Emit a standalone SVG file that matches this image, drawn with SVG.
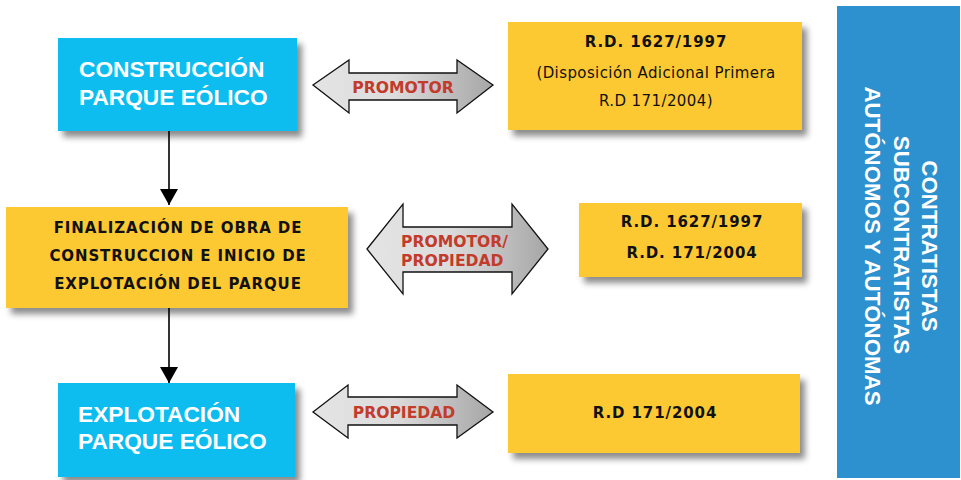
<svg xmlns="http://www.w3.org/2000/svg" width="961" height="480" viewBox="0 0 961 480">
<defs>
<filter id="sh" x="-10%" y="-10%" width="125%" height="135%">
<feDropShadow dx="5" dy="6" stdDeviation="3" flood-color="#000" flood-opacity="0.45"/>
</filter>
<linearGradient id="ag" x1="0" y1="0" x2="1" y2="0">
<stop offset="0" stop-color="#e4e4e4"/>
<stop offset="0.45" stop-color="#dcdcdc"/>
<stop offset="1" stop-color="#a6a6a6"/>
</linearGradient>
<marker id="ah" viewBox="0 0 16 18" refX="16" refY="9" markerWidth="16" markerHeight="18" markerUnits="userSpaceOnUse" orient="auto">
<path d="M0,0 L16,9 L0,18 Z" fill="#000"/>
</marker>
<style>
.cyan{fill:#0bbdef;filter:url(#sh)}
.yel{fill:#fdc930;filter:url(#sh)}
.ct{font-family:"Liberation Sans",Arial,sans-serif;font-weight:bold;font-size:22.7px;fill:#fff}
.yt{font-family:"DejaVu Sans",Verdana,sans-serif;font-size:15px;fill:#111;text-anchor:middle;letter-spacing:0.4px}
.yb{font-weight:bold;letter-spacing:0.9px}
.arr{fill:url(#ag);stroke:#111;stroke-width:1.3}
.at{font-family:"DejaVu Sans",Verdana,sans-serif;font-weight:bold;font-size:15.6px;fill:#c23b2b}
.conn{stroke:#000;stroke-width:1.6;fill:none}
</style>
</defs>

<g id="n-construccion">
<rect class="cyan" x="58" y="38" width="239" height="93"/>
<text class="ct" x="79" y="77">CONSTRUCCIÓN</text>
<text class="ct" x="79" y="105">PARQUE EÓLICO</text>
</g>

<g id="n-promotor">
<path class="arr" d="M313,85 L349,60 L349,73 L457,73 L457,60 L493,85 L457,113 L457,100 L349,100 L349,113 Z"/>
<text class="at" x="403" y="93" text-anchor="middle">PROMOTOR</text>
</g>

<g id="n-rd1">
<rect class="yel" x="508" y="22" width="294" height="108"/>
<text class="yt yb" x="656" y="47">R.D. 1627/1997</text>
<text class="yt" x="656" y="78">(Disposición Adicional Primera</text>
<text class="yt" x="656" y="106">R.D 171/2004)</text>
</g>

<g id="n-finalizacion">
<rect class="yel" x="6" y="207" width="342" height="101"/>
<text class="yt yb" x="178" y="233">FINALIZACIÓN DE OBRA DE</text>
<text class="yt yb" x="178" y="261">CONSTRUCCION E INICIO DE</text>
<text class="yt yb" x="178" y="289">EXPLOTACIÓN DEL PARQUE</text>
</g>

<g id="n-promotor-propiedad">
<path class="arr" d="M367,249 L403,204 L403,227 L512,227 L512,204 L548,249 L512,294 L512,272 L403,272 L403,294 Z"/>
<text class="at" x="401" y="247">PROMOTOR/</text>
<text class="at" x="401" y="266">PROPIEDAD</text>
</g>

<g id="n-rd2">
<rect class="yel" x="579" y="203" width="223" height="74"/>
<text class="yt yb" x="692" y="227">R.D. 1627/1997</text>
<text class="yt yb" x="692" y="258">R.D. 171/2004</text>
</g>

<g id="n-explotacion">
<rect class="cyan" x="58" y="383" width="237" height="94"/>
<text class="ct" x="78" y="422">EXPLOTACIÓN</text>
<text class="ct" x="78" y="449">PARQUE EÓLICO</text>
</g>

<g id="n-propiedad">
<path class="arr" d="M313,412 L348,385 L348,397 L457,397 L457,385 L493,412 L457,438 L457,425 L348,425 L348,438 Z"/>
<text class="at" x="404" y="418" text-anchor="middle">PROPIEDAD</text>
</g>

<g id="n-rd3">
<rect class="yel" x="508" y="374" width="292" height="79"/>
<text class="yt yb" x="655" y="418">R.D 171/2004</text>
</g>

<g id="n-contratistas">
<rect x="837" y="6" width="123" height="472" fill="#2e91cf"/>
<g font-family="Liberation Sans,Arial,sans-serif" font-weight="bold" font-size="22.3px" fill="#fff" text-anchor="middle">
<text transform="translate(922,246) rotate(90)">CONTRATISTAS</text>
<text transform="translate(894,245) rotate(90)">SUBCONTRATISTAS</text>
<text transform="translate(865,246) rotate(90)">AUTÓNOMOS Y AUTÓNOMAS</text>
</g>
</g>

<g id="connectors">
<line class="conn" x1="169" y1="131" x2="169" y2="205" marker-end="url(#ah)"/>
<line class="conn" x1="169" y1="308" x2="169" y2="383" marker-end="url(#ah)"/>
</g>
</svg>
